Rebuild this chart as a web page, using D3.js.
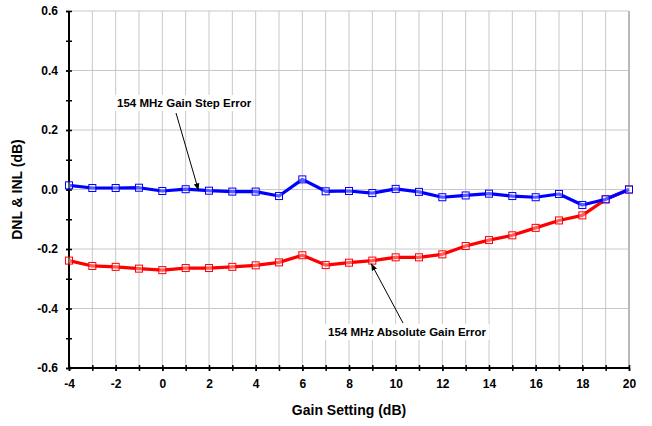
<!DOCTYPE html>
<html><head><meta charset="utf-8">
<script src="https://cdn.jsdelivr.net/npm/d3@7"></script>
<style>body{margin:0;background:#fff}svg{display:block;font-family:"Liberation Sans",Arial,sans-serif}</style>
</head><body><svg id="c" width="652" height="426"></svg>
<script>
const gainSettings = [-4,-3,-2,-1,0,1,2,3,4,5,6,7,8,9,10,11,12,13,14,15,16,17,18,19,20];
const stepError = [0.014,0.005,0.005,0.006,-0.005,0.001,-0.004,-0.007,-0.007,-0.022,0.034,-0.006,-0.005,-0.012,0.002,-0.008,-0.026,-0.020,-0.014,-0.022,-0.026,-0.015,-0.052,-0.033,0.0];
const absError = [-0.239,-0.257,-0.260,-0.266,-0.271,-0.264,-0.264,-0.260,-0.255,-0.245,-0.221,-0.254,-0.246,-0.239,-0.228,-0.228,-0.218,-0.190,-0.170,-0.154,-0.129,-0.104,-0.087,-0.033,0.0];
const xTickLabels = [-4,-2,0,2,4,6,8,10,12,14,16,18,20];
const yTickLabels = [-0.6,-0.4,-0.2,0.0,0.2,0.4,0.6];
const seriesNames = ["154 MHz Gain Step Error","154 MHz Absolute Gain Error"];

const svg = d3.select("#c");
const L=69,R=629,T=11,B=368;
const x = d3.scaleLinear().domain([-4,20]).range([L,R]);
const y = d3.scaleLinear().domain([-0.6,0.6]).range([B,T]);
const hy = f => (v => f(v).replace("\u2212","-"));

// grid
const g = svg.append("g");
g.selectAll("line.vg").data(d3.range(-3,21)).enter().append("line")
 .attr("x1",d=>x(d)).attr("x2",d=>x(d)).attr("y1",T).attr("y2",B)
 .attr("stroke",d=>d===20?"#a0a0a0":"#c8c8c8").attr("stroke-width",d=>d===20?1.5:1);
g.selectAll("line.hg").data(yTickLabels.filter(v=>v>-0.6)).enter().append("line")
 .attr("x1",L).attr("x2",R).attr("y1",d=>y(d)).attr("y2",d=>y(d))
 .attr("stroke","#c8c8c8").attr("stroke-width",1);

// axes
const yAxis = d3.axisLeft(y).tickValues(yTickLabels).tickFormat(hy(d3.format(".1f"))).tickSize(3).tickPadding(8);
const ya = svg.append("g").attr("transform",`translate(${L},0)`).call(yAxis);
svg.append("g").attr("transform",`translate(${L+3},0)`).call(d3.axisLeft(y).tickValues(d3.range(-6,7).map(v=>v/10)).tickFormat("").tickSize(6)).call(s=>s.select(".domain").remove());
const xAxis = d3.axisBottom(x).tickValues(xTickLabels).tickFormat(hy(d3.format("d"))).tickSize(3).tickPadding(8);
const xa = svg.append("g").attr("transform",`translate(0,${B})`).call(xAxis);
svg.append("g").attr("transform",`translate(0,${B-3})`).call(d3.axisBottom(x).tickValues(gainSettings).tickFormat("").tickSize(6)).call(s=>s.select(".domain").remove());
ya.select(".domain").remove(); xa.select(".domain").remove();
svg.append("line").attr("x1",L).attr("x2",L).attr("y1",T).attr("y2",B).attr("stroke","#000").attr("stroke-width",2);
svg.append("line").attr("x1",L).attr("x2",R).attr("y1",B).attr("y2",B).attr("stroke","#000").attr("stroke-width",2);
svg.selectAll(".tick line").attr("stroke","#000").attr("stroke-width",1.5);
svg.selectAll(".tick text").attr("font-size",12).attr("font-weight","bold").attr("fill","#000").attr("font-family","Liberation Sans, Arial, sans-serif");

svg.append("text").attr("x",(L+R)/2).attr("y",415).attr("text-anchor","middle")
 .attr("font-size",14).attr("font-weight","bold").text("Gain Setting (dB)");
svg.append("text").attr("transform",`translate(22,${(T+B)/2}) rotate(-90)`).attr("text-anchor","middle")
 .attr("font-size",14).attr("font-weight","bold").text("DNL & INL (dB)");

// series
const line = d3.line().x((d,i)=>x(gainSettings[i])).y(d=>y(d));
function series(data,color){
  svg.append("path").datum(data).attr("d",line).attr("fill","none").attr("stroke",color).attr("stroke-width",3.2).attr("stroke-linejoin","round");
  svg.append("g").selectAll("rect").data(data).enter().append("rect")
   .attr("x",(d,i)=>x(gainSettings[i])-3.5).attr("y",d=>y(d)-3.5).attr("width",7).attr("height",7)
   .attr("fill","rgba(255,255,255,0.35)").attr("stroke",color).attr("stroke-width",1);
}
series(absError,"#ff0000");
series(stepError,"#0000ff");

// annotations
svg.append("defs").append("marker").attr("id","ah").attr("viewBox","0 0 10 10").attr("refX",10).attr("refY",5)
 .attr("markerWidth",7).attr("markerHeight",7).attr("orient","auto")
 .append("path").attr("d","M0,1 L10,5 L0,9 z").attr("fill","#000");
function annot(label, tx, ty, x0,y0, xi, vi){
  const t = svg.append("text").attr("x",tx).attr("y",ty).attr("font-size",11.5).attr("font-weight","bold").text(label);
  const bb = t.node().getBBox();
  svg.insert("rect", () => t.node()).attr("x",bb.x-3).attr("y",bb.y-2).attr("width",bb.width+6).attr("height",bb.height+4).attr("fill","#fff");
  svg.append("line").attr("x1",x0).attr("y1",y0).attr("x2",x(xi)).attr("y2",y(vi))
   .attr("stroke","#000").attr("stroke-width",1).attr("marker-end","url(#ah)");
}
annot(seriesNames[0],117,107,176,113,1.55,stepError[5]-0.004);
annot(seriesNames[1],328,336,403,323,8.95,absError[13]-0.01);
</script></body></html>
